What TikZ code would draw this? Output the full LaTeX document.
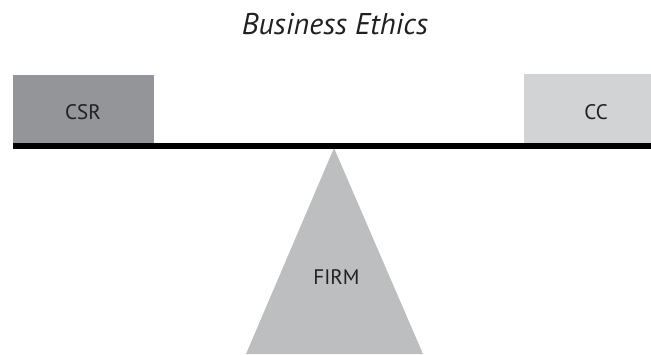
\documentclass[tikz,border=0pt]{standalone}
\usepackage{fontspec}
\setmainfont{PT Sans}
\begin{document}
\begin{tikzpicture}[x=1pt,y=-1pt,
  lbl/.style={text=textdark,inner sep=0pt,font=\fontsize{21}{21}\selectfont},
  block/.style={draw=none,inner sep=0pt}]
\definecolor{textdark}{HTML}{231F20}
\definecolor{csrgray}{HTML}{939598}
\definecolor{ccgray}{HTML}{D1D3D4}
\definecolor{firmgray}{HTML}{BCBEC0}
\useasboundingbox (0,0) rectangle (651,354);
% title
\node[text=textdark,inner sep=0pt,font=\fontsize{30}{30}\selectfont\itshape] (title) at (335,24) {Business Ethics};
% weights on the beam
\fill[csrgray] (13,75) rectangle (154,143);
\fill[ccgray] (524,74) rectangle (651,143);
\node[lbl] (csr) at (83,112) {CSR};
\node[lbl] (cc) at (596,112) {CC};
% fulcrum
\fill[firmgray] (334,148) -- (423,354) -- (246,354) -- cycle;
\node[lbl] (firm) at (336.5,277) {FIRM};
% beam
\fill[black] (13,143.3) rectangle (651,149);
\end{tikzpicture}
\end{document}
